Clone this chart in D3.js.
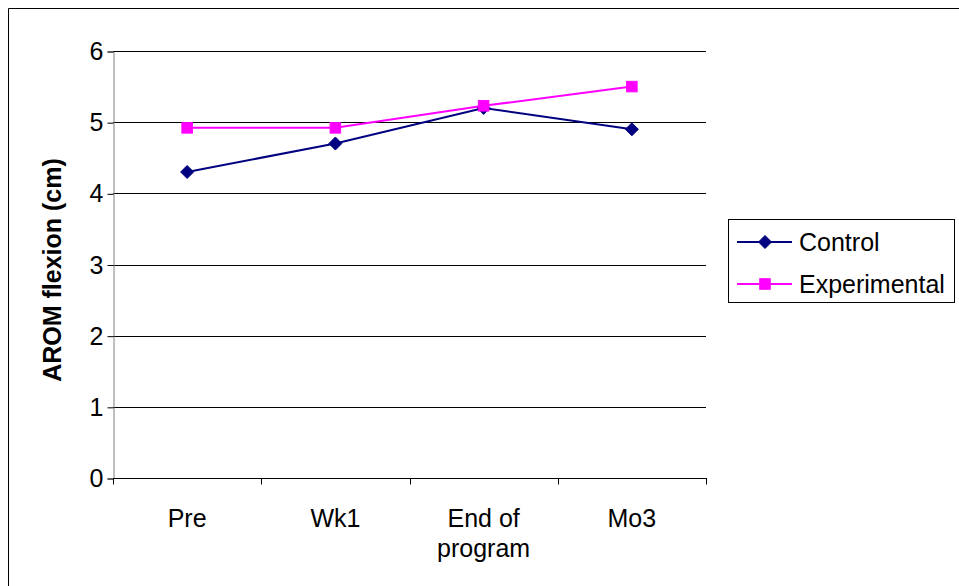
<!DOCTYPE html>
<html>
<head>
<meta charset="utf-8">
<script src="https://cdn.jsdelivr.net/npm/d3@7"></script>
<style>
  html, body { margin: 0; padding: 0; background: #fff; }
  svg { display: block; font-family: "Liberation Sans", Arial, sans-serif; }
</style>
</head>
<body>
<svg id="chart" width="959" height="586"></svg>
<script>
// Measurement occasions
const categories = ["Pre", "Wk1", "End of program", "Mo3"];
// Group means, AROM flexion (cm)
const controlValues = [4.3, 4.7, 5.2, 4.9];
const experimentalValues = [4.92, 4.92, 5.23, 5.5];
const yTicks = [0, 1, 2, 3, 4, 5, 6];
const seriesNames = ["Control", "Experimental"];

const series = [
  { name: seriesNames[0], values: controlValues, color: "#000080", marker: "diamond" },
  { name: seriesNames[1], values: experimentalValues, color: "#FF00FF", marker: "square" }
];

const FONT = 25;
const svg = d3.select("#chart");
const plot = { left: 113, right: 706, top: 51, bottom: 478 };

// outer frame (top and left edges visible)
svg.append("line").attr("x1", 8.5).attr("y1", 8.5).attr("x2", 959).attr("y2", 8.5)
  .attr("stroke", "#000").attr("stroke-width", 1);
svg.append("line").attr("x1", 8.5).attr("y1", 8.5).attr("x2", 8.5).attr("y2", 586)
  .attr("stroke", "#000").attr("stroke-width", 1);

const x = d3.scaleBand().domain(categories).range([plot.left, plot.right]);
const y = d3.scaleLinear().domain([0, 6]).range([plot.bottom, plot.top]);

// horizontal gridlines
svg.append("g").selectAll("line").data(yTicks.filter(d => d > 0)).join("line")
  .attr("x1", plot.left).attr("x2", plot.right)
  .attr("y1", d => Math.round(y(d)) + 0.5).attr("y2", d => Math.round(y(d)) + 0.5)
  .attr("stroke", "#000").attr("stroke-width", 1);

// y axis
const yAxis = svg.append("g")
  .attr("transform", `translate(${plot.left + 0.5},0.5)`)
  .call(d3.axisLeft(y).tickValues(yTicks).tickSize(6).tickPadding(4).tickFormat(d3.format("d")));
yAxis.select(".domain").attr("stroke", "#808080");
yAxis.selectAll(".tick line").attr("stroke", "#000");
yAxis.selectAll(".tick text").attr("font-size", FONT).attr("fill", "#000")
  .attr("font-family", "Liberation Sans, Arial, sans-serif");

// x axis with ticks between categories
const xAxisG = svg.append("g").attr("transform", `translate(0,${Math.round(plot.bottom) + 0.5})`);
xAxisG.append("line").attr("x1", plot.left).attr("x2", plot.right + 1)
  .attr("stroke", "#000");
const bounds = categories.map(c => x(c)).concat([x(categories[categories.length - 1]) + x.bandwidth()]);
xAxisG.selectAll("line.tk").data(bounds).join("line").attr("class", "tk")
  .attr("x1", d => Math.round(d) + 0.5).attr("x2", d => Math.round(d) + 0.5)
  .attr("y1", 0).attr("y2", 6).attr("stroke", "#000");
xAxisG.selectAll("text").data(categories).join("text")
  .attr("x", d => x(d) + x.bandwidth() / 2)
  .attr("text-anchor", "middle")
  .attr("font-size", FONT)
  .attr("fill", "#000")
  .each(function (d) {
    const words = d === "End of program" ? ["End of", "program"] : [d];
    const t = d3.select(this);
    words.forEach((w, i) => {
      t.append("tspan").attr("x", x(d) + x.bandwidth() / 2).attr("y", 48 + i * 30).text(w);
    });
  });

// axis title
svg.append("text")
  .attr("transform", `translate(61,270) rotate(-90)`)
  .attr("text-anchor", "middle")
  .attr("font-size", FONT).attr("font-weight", "bold").attr("fill", "#000")
  .text("AROM flexion (cm)");

function drawMarker(g, type, cx, cy, color) {
  if (type === "diamond") {
    const r = 6.5;
    g.append("path").attr("d", `M${cx},${cy - r}L${cx + r},${cy}L${cx},${cy + r}L${cx - r},${cy}Z`)
      .attr("fill", color).attr("stroke", color);
  } else {
    const s = 10.5;
    g.append("rect").attr("x", cx - s / 2).attr("y", cy - s / 2).attr("width", s).attr("height", s)
      .attr("fill", color).attr("stroke", color);
  }
}

const line = d3.line().x((d, i) => x(categories[i]) + x.bandwidth() / 2).y(d => y(d));

series.forEach(s => {
  const g = svg.append("g");
  g.append("path").attr("d", line(s.values)).attr("fill", "none")
    .attr("stroke", s.color).attr("stroke-width", 2);
  s.values.forEach((v, i) => drawMarker(g, s.marker, x(categories[i]) + x.bandwidth() / 2, y(v), s.color));
});

// legend
const legend = svg.append("g");
legend.append("rect").attr("x", 728.5).attr("y", 219.5).attr("width", 226).attr("height", 83)
  .attr("fill", "#fff").attr("stroke", "#000");
series.forEach((s, i) => {
  const cy = 242 + i * 42;
  legend.append("line").attr("x1", 737).attr("x2", 792).attr("y1", cy).attr("y2", cy)
    .attr("stroke", s.color).attr("stroke-width", 2);
  drawMarker(legend, s.marker, 765, cy, s.color);
  legend.append("text").attr("x", 799).attr("y", cy + 9).attr("font-size", FONT).attr("fill", "#000").text(s.name);
});
</script>
</body>
</html>
